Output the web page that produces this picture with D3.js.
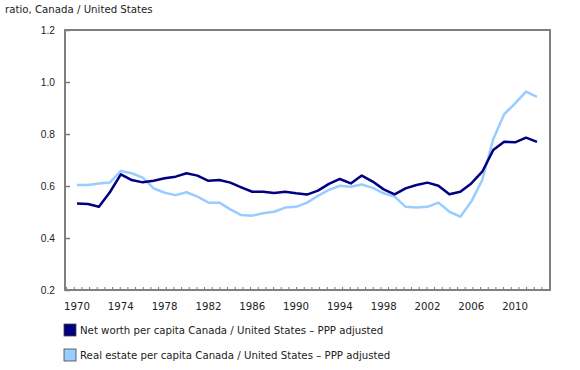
<!DOCTYPE html>
<html>
<head>
<meta charset="utf-8">
<script src="https://cdn.jsdelivr.net/npm/d3@7"></script>
<style>
  body { margin: 0; background: #fff; }
  svg { display: block; font-family: "DejaVu Sans", Verdana, sans-serif; }
</style>
</head>
<body>
<div id="chart"></div>
<script>
var years = d3.range(1970, 2013);
var netWorth = [0.533, 0.531, 0.520, 0.576, 0.645, 0.623, 0.614, 0.620, 0.630, 0.636,
                0.649, 0.640, 0.620, 0.623, 0.613, 0.595, 0.578, 0.578, 0.573, 0.578,
                0.572, 0.567, 0.582, 0.608, 0.627, 0.610, 0.640, 0.617, 0.587, 0.568,
                0.591, 0.604, 0.613, 0.601, 0.568, 0.578, 0.610, 0.655, 0.738, 0.770,
                0.768, 0.786, 0.770];
var realEstate = [0.604, 0.604, 0.610, 0.613, 0.658, 0.649, 0.632, 0.591, 0.574, 0.565,
                  0.576, 0.559, 0.536, 0.536, 0.510, 0.488, 0.486, 0.495, 0.501, 0.517,
                  0.520, 0.536, 0.562, 0.585, 0.601, 0.597, 0.606, 0.593, 0.572, 0.559,
                  0.520, 0.517, 0.520, 0.536, 0.501, 0.482, 0.540, 0.623, 0.780, 0.876,
                  0.918, 0.963, 0.943];
var yTicks = [0.2, 0.4, 0.6, 0.8, 1.0, 1.2];
var xLabels = [1970, 1974, 1978, 1982, 1986, 1990, 1994, 1998, 2002, 2006, 2010];
var seriesNames = ["Net worth per capita Canada / United States \u2013 PPP adjusted",
                   "Real estate per capita Canada / United States \u2013 PPP adjusted"];
var colors = ["#000080", "#99ccff"];

var width = 580, height = 370;
var frame = {left: 65, right: 550, top: 30, bottom: 290};
var fontSize = "10.2px";

var x = d3.scaleLinear().domain([1970, 2012]).range([77, 537]);
var y = d3.scaleLinear().domain([0.2, 1.2]).range([frame.bottom, frame.top]);

var svg = d3.select("#chart").append("svg")
    .attr("width", width).attr("height", height);

svg.append("text")
    .attr("x", 5).attr("y", 13)
    .style("font-size", fontSize).attr("fill", "#222")
    .text("ratio, Canada / United States");

// y axis labels + inward ticks
var yAxis = svg.append("g").attr("transform", `translate(${frame.left},0)`)
    .call(d3.axisRight(y).tickValues(yTicks).tickSize(5).tickFormat(d3.format(".1f")));
yAxis.select(".domain").remove();
yAxis.selectAll(".tick line").attr("stroke", "#777").attr("stroke-width", 1.5);
yAxis.selectAll(".tick text")
    .attr("x", -10).attr("text-anchor", "end")
    .style("font-size", fontSize).attr("fill", "#222");

// x axis: small inward ticks, labels every 4 years
var minorTicks = d3.range(1969.05, 2013.4, 0.7);
svg.append("g").selectAll("line").data(minorTicks).join("line")
    .attr("x1", d => x(d)).attr("x2", d => x(d))
    .attr("y1", frame.bottom).attr("y2", frame.bottom - 3)
    .attr("stroke", "#777").attr("stroke-width", 1);

svg.append("g").selectAll("text").data(xLabels).join("text")
    .attr("x", d => x(d)).attr("y", 310)
    .attr("text-anchor", "middle")
    .style("font-size", fontSize).attr("fill", "#222")
    .text(d => d);

// frame
svg.append("rect")
    .attr("x", frame.left).attr("y", frame.top)
    .attr("width", frame.right - frame.left).attr("height", frame.bottom - frame.top)
    .attr("fill", "none").attr("stroke", "#808080").attr("stroke-width", 2);

var line = d3.line().x((d, i) => x(years[i])).y(d => y(d));

[realEstate, netWorth].forEach((s, k) => {
    svg.append("path")
        .datum(s)
        .attr("fill", "none")
        .attr("stroke", colors[1 - k])
        .attr("stroke-width", 2.5)
        .attr("stroke-linejoin", "round")
        .attr("d", line);
});

// legend
var legend = svg.append("g").selectAll("g").data(seriesNames).join("g")
    .attr("transform", (d, i) => `translate(64,${324 + i * 25})`);
legend.append("rect")
    .attr("width", 12).attr("height", 12)
    .attr("fill", (d, i) => colors[i])
    .attr("stroke", "#444").attr("stroke-width", 0.8);
legend.append("text")
    .attr("x", 16).attr("y", 10)
    .style("font-size", fontSize).attr("fill", "#222")
    .text(d => d);
</script>
</body>
</html>
